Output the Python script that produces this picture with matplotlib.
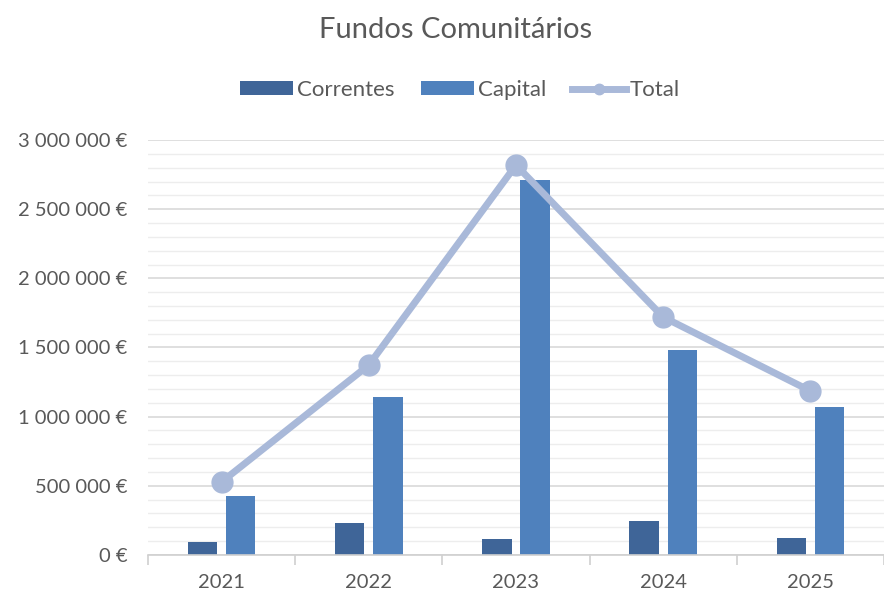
import numpy as np
import matplotlib.pyplot as plt
from matplotlib.ticker import MultipleLocator, FuncFormatter

anos = ['2021', '2022', '2023', '2024', '2025']
correntes = [94000, 231000, 116000, 246000, 123000]
capital = [426000, 1142000, 2711000, 1482000, 1070000]
total = [528000, 1373000, 2819000, 1720000, 1186000]

plt.rcParams['font.family'] = ['Lato', 'DejaVu Sans']

fig = plt.figure(figsize=(8.84, 5.93), dpi=100)
ax = fig.add_axes([0.1674, 0.0641, 0.8326, 0.6998])

x = np.arange(len(anos))
w = 0.2
b1 = ax.bar(x - 0.13, correntes, w, color='#3F6598', label='Correntes', zorder=2)
b2 = ax.bar(x + 0.13, capital, w, color='#4F81BD', label='Capital', zorder=2)
l1, = ax.plot(x, total, color='#A9B9D9', lw=5, marker='o', markersize=15,
              label='Total', zorder=3)

ax.set_xlim(-0.5, len(anos) - 0.5)
ax.set_ylim(0, 3000000)
ax.yaxis.set_major_locator(MultipleLocator(500000))
ax.yaxis.set_minor_locator(MultipleLocator(100000))

def euro(v, pos):
    return f'{int(v):,} €'.replace(',', ' ')

ax.yaxis.set_major_formatter(FuncFormatter(euro))
ax.grid(axis='y', which='major', color='#D9D9D9', lw=1.2, zorder=0)
ax.grid(axis='y', which='minor', color='#EDEDED', lw=1.0, zorder=0)

for s in ['top', 'right', 'left']:
    ax.spines[s].set_visible(False)
ax.spines['bottom'].set_color('#D0D0D0')
ax.spines['bottom'].set_linewidth(1.2)

ax.set_xticks(x)
ax.set_xticklabels(anos)
ax.set_xticks(np.arange(len(anos) + 1) - 0.5, minor=True)
ax.tick_params(axis='x', which='major', length=0, pad=14, labelsize=14.5, labelcolor='#595959')
ax.tick_params(axis='x', which='minor', length=7, color='#D0D0D0', width=1.2)
ax.tick_params(axis='y', which='both', length=0, pad=15, labelsize=14.5, labelcolor='#595959')

fig.text(0.515, 0.95, 'Fundos Comunitários', ha='center', va='center',
         fontsize=21, color='#595959')
fig.legend([b1, b2, l1], ['Correntes', 'Capital', 'Total'], loc='center',
           bbox_to_anchor=(0.52, 0.848), ncol=3,
           frameon=False, fontsize=16, labelcolor='#595959',
           handlelength=2.4, handleheight=0.6, columnspacing=1.2, handletextpad=0.15,
           markerscale=0.5)

fig.savefig('out.png', dpi=100)
